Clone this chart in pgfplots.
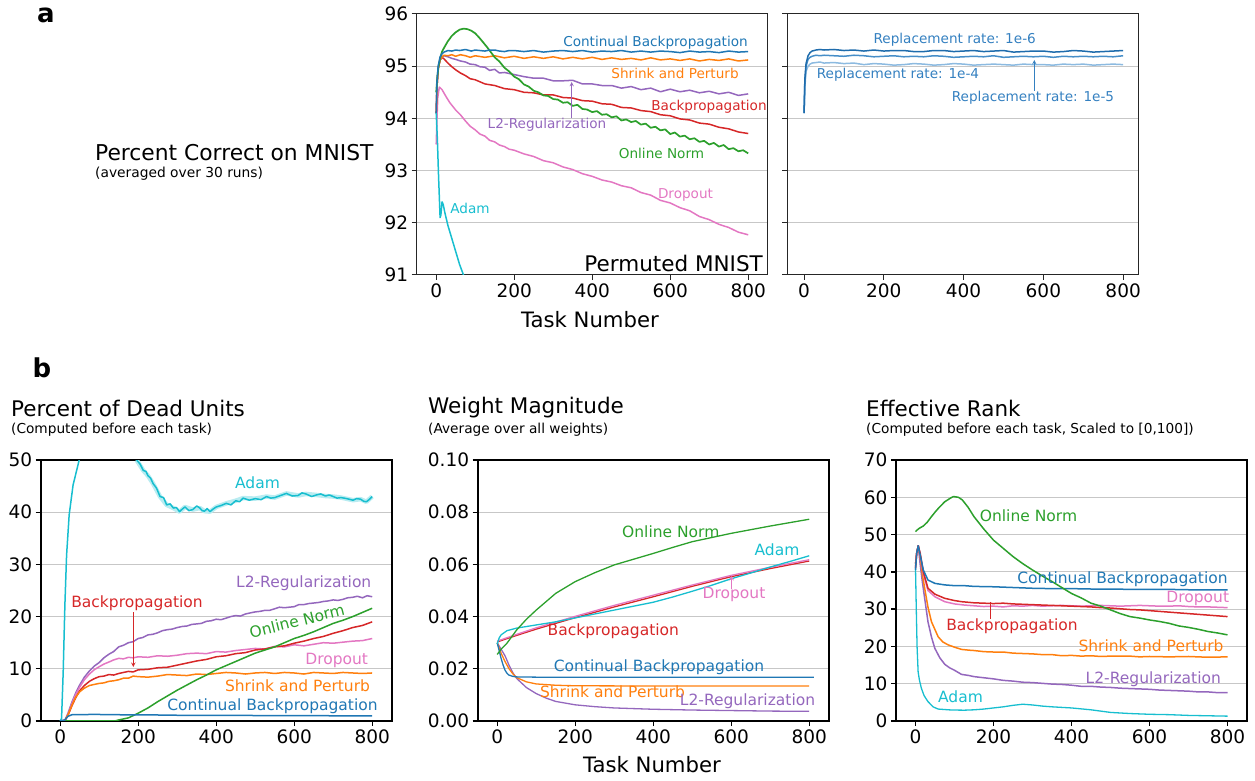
\documentclass[border=0pt]{standalone}
\usepackage{pgfplots}
\pgfplotsset{compat=1.18}
\usepackage{fontspec}
\setmainfont{DejaVu Sans}
\definecolor{cB}{HTML}{1F77B4}
\definecolor{cO}{HTML}{FF7F0E}
\definecolor{cG}{HTML}{2CA02C}
\definecolor{cR}{HTML}{D62728}
\definecolor{cP}{HTML}{9467BD}
\definecolor{cK}{HTML}{E377C2}
\definecolor{cC}{HTML}{17BECF}
\definecolor{rA}{RGB}{31,108,172}
\definecolor{rB}{RGB}{70,142,200}
\definecolor{rC}{RGB}{140,186,224}
\definecolor{rT}{RGB}{52,128,192}
\newcommand\fs[1]{\fontsize{#1}{#1}\selectfont}
\pgfplotsset{
 myax/.style={scale only axis, width=351pt, height=261pt, xmin=-50, xmax=850,
   xtick={0,200,400,600,800}, tick align=outside, xtick pos=left, ytick pos=left,
   ymajorgrids, major grid style={draw=black!22, line width=1pt},
   tick label style={font=\fs{18.5}}, major tick length=5pt,
   tick style={black!85, line width=1pt},
   /pgf/number format/assume math mode=true,
   axis line style={line width=1pt, black!85},
   every axis plot/.append style={line width=1.5pt, line join=round},
   scaled y ticks=false, clip=true},
 bax/.style={myax, axis line style={line width=1.6pt, black}, tick style={black, line width=1.3pt}}
}
\begin{document}
\begin{tikzpicture}
\useasboundingbox (0,0) rectangle (1255pt,780pt);
% ---------------- A1 ----------------
\begin{axis}[myax, at={(416.7pt,766pt)}, anchor=north west, ymin=91, ymax=96, ytick={91,92,93,94,95,96}]
\addplot[cK] coordinates {(0,93.5)(2,94.0)(4,94.4)(8,94.6)(15,94.55)(25,94.42)(35,94.3)(50,94.16)(62,94.07)(75,93.95)(87,93.85)(100,93.78)(112,93.7)(125,93.66)(137,93.58)(150,93.55)(162,93.49)(175,93.46)(187,93.41)(200,93.39)(225,93.32)(250,93.27)(275,93.19)(300,93.15)(325,93.07)(350,93.02)(375,92.94)(400,92.89)(425,92.82)(450,92.78)(475,92.71)(500,92.67)(525,92.58)(550,92.53)(575,92.43)(600,92.38)(625,92.29)(650,92.23)(675,92.12)(700,92.06)(725,91.97)(750,91.91)(775,91.82)(800,91.77)};
\addplot[cR] coordinates {(0,94.1)(2,94.6)(5,94.95)(10,95.12)(15,95.17)(20,95.14)(30,95.06)(40,94.99)(50,94.93)(62,94.87)(75,94.82)(87,94.76)(100,94.74)(125,94.66)(150,94.63)(175,94.57)(200,94.55)(225,94.5)(250,94.49)(275,94.45)(300,94.45)(325,94.4)(350,94.39)(375,94.34)(400,94.33)(425,94.28)(450,94.27)(475,94.21)(500,94.2)(525,94.15)(550,94.13)(575,94.07)(600,94.05)(625,93.99)(650,93.97)(675,93.91)(700,93.89)(725,93.83)(750,93.8)(775,93.74)(800,93.71)};
\addplot[cP] coordinates {(0,94.1)(2,94.6)(5,94.95)(10,95.12)(15,95.18)(20,95.2)(30,95.18)(40,95.15)(50,95.13)(62,95.1)(75,95.08)(87,95.04)(100,95.03)(112,94.99)(125,94.98)(137,94.92)(150,94.94)(162,94.87)(175,94.88)(200,94.84)(225,94.8)(250,94.77)(275,94.77)(300,94.72)(325,94.72)(350,94.73)(375,94.66)(400,94.66)(425,94.63)(450,94.63)(475,94.58)(500,94.61)(525,94.55)(550,94.58)(575,94.51)(600,94.56)(625,94.51)(650,94.54)(675,94.49)(700,94.52)(725,94.47)(750,94.5)(775,94.44)(800,94.47)};
\addplot[cO] coordinates {(0,94.1)(2,94.6)(5,94.95)(10,95.12)(15,95.18)(20,95.21)(30,95.2)(40,95.22)(50,95.19)(62,95.22)(75,95.2)(87,95.17)(100,95.2)(125,95.17)(150,95.2)(175,95.16)(200,95.19)(225,95.15)(250,95.18)(275,95.15)(300,95.18)(325,95.14)(350,95.17)(375,95.14)(400,95.17)(425,95.13)(450,95.16)(475,95.13)(500,95.15)(525,95.12)(550,95.16)(575,95.12)(600,95.14)(625,95.11)(650,95.14)(675,95.1)(700,95.13)(725,95.11)(750,95.14)(775,95.1)(800,95.12)};
\addplot[cG, line width=1.7pt] coordinates {(0,94.5)(3,94.8)(6,95.0)(10,95.15)(15,95.28)(20,95.35)(30,95.48)(40,95.58)(50,95.65)(60,95.7)(70,95.72)(80,95.71)(90,95.68)(100,95.63)(110,95.55)(120,95.46)(130,95.37)(140,95.27)(150,95.17)(162,95.09)(175,94.97)(187,94.9)(200,94.8)(212,94.75)(225,94.65)(237,94.61)(250,94.53)(262,94.5)(275,94.44)(287,94.43)(300,94.37)(312,94.36)(325,94.3)(337,94.31)(350,94.24)(362,94.26)(375,94.18)(387,94.17)(400,94.12)(412,94.14)(425,94.07)(437,94.08)(450,94.02)(462,94.04)(475,93.96)(487,93.98)(500,93.93)(512,93.95)(525,93.88)(537,93.9)(550,93.82)(562,93.84)(575,93.77)(587,93.79)(600,93.7)(612,93.73)(625,93.65)(637,93.67)(650,93.6)(662,93.62)(675,93.55)(687,93.57)(700,93.5)(712,93.53)(725,93.46)(737,93.49)(750,93.41)(762,93.43)(775,93.37)(787,93.39)(800,93.33)};
\addplot[cB] coordinates {(0,94.1)(2,94.7)(5,95.0)(10,95.18)(15,95.24)(20,95.27)(30,95.30)(40,95.29)(50,95.31)(60,95.3)(75,95.32)(90,95.29)(100,95.31)(112,95.3)(125,95.29)(137,95.31)(150,95.31)(162,95.29)(175,95.28)(187,95.3)(200,95.3)(225,95.28)(250,95.3)(275,95.27)(300,95.29)(325,95.3)(350,95.28)(375,95.3)(400,95.27)(425,95.29)(450,95.28)(475,95.3)(500,95.27)(525,95.29)(550,95.27)(575,95.29)(600,95.28)(625,95.26)(650,95.29)(675,95.27)(700,95.28)(725,95.26)(750,95.29)(775,95.27)(800,95.28)};
\addplot[cC] coordinates {(0,94.1)(3,93.6)(6,92.9)(10,92.1)(12,92.15)(15,92.4)(18,92.35)(22,92.2)(30,91.95)(40,91.7)(50,91.45)(60,91.2)(70,91.0)(75,90.8)};
\end{axis}
% ---------------- A2 ----------------
\begin{axis}[myax, at={(787.3pt,766pt)}, anchor=north west, xmin=-42, xmax=838, ymin=91, ymax=96, ytick={91,92,93,94,95,96}, yticklabels={}]
\addplot[rC] coordinates {(0,94.1)(2,94.6)(5,94.9)(10,95.0)(15,95.04)(20,95.06)(30,95.07)(40,95.08)(50,95.06)(75,95.07)(100,95.05)(125,95.06)(150,95.03)(175,95.05)(200,95.04)(225,95.02)(250,95.03)(275,95.05)(300,95.04)(325,95.02)(350,95.03)(375,95.05)(400,95.04)(425,95.02)(450,95.03)(475,95.04)(500,95.03)(525,95.02)(550,95.04)(575,95.03)(600,95.03)(625,95.02)(650,95.04)(675,95.03)(700,95.04)(725,95.02)(750,95.03)(775,95.04)(800,95.03)};
\addplot[rB] coordinates {(0,94.1)(2,94.7)(5,95.0)(10,95.13)(15,95.17)(20,95.19)(30,95.21)(40,95.2)(50,95.21)(75,95.2)(100,95.19)(125,95.21)(150,95.2)(175,95.18)(200,95.19)(225,95.2)(250,95.18)(275,95.19)(300,95.18)(325,95.2)(350,95.19)(375,95.17)(400,95.18)(425,95.19)(450,95.18)(475,95.2)(500,95.17)(525,95.18)(550,95.19)(575,95.18)(600,95.19)(625,95.17)(650,95.19)(675,95.18)(700,95.19)(725,95.18)(750,95.19)(775,95.18)(800,95.2)};
\addplot[rA] coordinates {(0,94.1)(2,94.75)(5,95.05)(10,95.2)(15,95.26)(20,95.29)(30,95.31)(40,95.32)(50,95.31)(75,95.32)(100,95.3)(125,95.31)(150,95.29)(175,95.31)(200,95.29)(225,95.3)(250,95.3)(275,95.28)(300,95.28)(325,95.3)(350,95.3)(375,95.28)(400,95.29)(425,95.3)(450,95.28)(475,95.29)(500,95.3)(525,95.27)(550,95.28)(575,95.29)(600,95.29)(625,95.27)(650,95.28)(675,95.3)(700,95.29)(725,95.27)(750,95.28)(775,95.29)(800,95.3)};
\end{axis}
% ---------------- B1 ----------------
\begin{axis}[bax, at={(40.7pt,320pt)}, anchor=north west, ymin=0, ymax=50, ytick={0,10,20,30,40,50}]
\addplot[cC!30, line width=4.5pt] coordinates {(196,50)(213,48)(225,47)(238,45.5)(256,43)(273,41.4)(290,40.8)(306,40.1)(320,41)(340,40.5)(358,40.8)(370,40.2)(384,40.1)(400,41)(426,41.7)(450,42.2)(469,42.7)(500,42.6)(529,43)(550,42.8)(580,43.6)(610,43.2)(630,43.5)(657,43.3)(680,43.1)(700,43)(720,42.8)(751,42.3)(770,42.5)(785,42)(800,43)};
\addplot[cC] coordinates {(0,0)(3.5,0.5)(7.7,9.4)(12,22.2)(16.4,31.8)(23,39.5)(33,45.2)(48.7,50)(60,54)(100,58)(150,56)(196,50)(205,49.2)(213,48)(220,47.8)(225,47)(232,46.5)(238,45.5)(247,44.6)(256,43)(265,42.8)(273,41.4)(282,41.6)(290,40.8)(298,40.9)(306,40.1)(313,40.6)(320,41)(330,40.3)(340,40.5)(350,41.2)(358,40.8)(364,40.3)(370,40.2)(377,40.7)(384,40.1)(392,40.6)(400,41)(413,41.3)(426,41.7)(438,41.4)(450,42.2)(460,42.0)(469,42.7)(485,42.3)(500,42.6)(515,42.4)(529,43)(540,42.7)(550,42.8)(565,43.2)(580,43.6)(595,43.1)(610,43.2)(620,43.7)(630,43.5)(645,43.0)(657,43.3)(668,43.5)(680,43.1)(690,43.3)(700,43)(710,42.7)(720,42.8)(735,42.6)(751,42.3)(760,42.6)(770,42.5)(778,42.1)(785,42)(792,42.4)(800,43)};
\addplot[cP] coordinates {(0,0)(12,0.1)(20,1.5)(30,3.6)(40,5.4)(50,6.9)(62,8.4)(75,9.6)(87,10.5)(100,11.2)(112,12.1)(125,12.8)(137,13.3)(150,14.2)(162,14.5)(175,15)(187,15.2)(200,15.8)(212,16.0)(225,16.5)(237,16.6)(250,16.9)(262,17.3)(275,17.5)(287,17.6)(300,17.9)(312,18.1)(325,18.2)(337,18.5)(350,18.6)(362,18.7)(375,19.1)(387,19.2)(400,19.5)(412,19.4)(425,19.7)(437,20.0)(450,20.2)(462,20.1)(475,20.5)(487,20.7)(500,20.9)(512,21.0)(525,21.2)(537,21.2)(550,21.5)(562,21.8)(575,21.7)(587,21.8)(600,21.9)(612,22.3)(625,22.3)(637,22.5)(650,22.6)(662,22.7)(675,22.9)(687,23.0)(700,23.2)(712,23.1)(725,23.3)(737,23.6)(750,23.7)(762,23.9)(775,23.6)(787,24.0)(800,23.8)};
\addplot[cK] coordinates {(0,0)(12,0.1)(20,1.3)(30,3.3)(40,5.1)(50,6.5)(62,7.9)(75,9.0)(87,9.8)(100,10.4)(112,10.9)(125,11.3)(137,11.7)(150,12)(162,11.9)(175,12.2)(187,12.1)(200,12.3)(225,12.2)(250,12.5)(275,12.4)(300,12.6)(325,12.9)(350,13)(375,12.9)(400,13.3)(425,13.2)(450,13.5)(475,13.7)(500,13.9)(525,13.8)(550,14.3)(575,14.2)(600,14.6)(625,14.4)(650,14.7)(675,15.0)(700,14.9)(725,15.1)(750,15.3)(775,15.4)(800,15.8)};
\addplot[cR] coordinates {(0,0)(12,0.1)(20,1.1)(30,2.9)(40,4.5)(50,5.8)(62,6.8)(75,7.6)(87,8.1)(100,8.5)(112,8.6)(125,8.9)(137,8.8)(150,9.1)(162,9.3)(175,9.5)(187,9.4)(200,9.8)(225,9.9)(250,10.2)(275,10.3)(300,10.7)(325,11.1)(350,11.5)(375,11.8)(400,12.3)(425,12.5)(450,12.9)(475,13.1)(500,13.6)(525,13.8)(550,14.2)(575,14.4)(600,14.9)(625,15.3)(650,15.8)(675,16.2)(700,16.8)(725,17.3)(750,17.9)(775,18.3)(800,19.0)};
\addplot[cO] coordinates {(0,0)(12,0.1)(20,1.2)(30,3.0)(40,4.6)(50,5.6)(62,6.3)(75,6.8)(87,7.0)(100,7.2)(112,7.3)(125,7.6)(137,7.7)(150,7.9)(162,8.2)(175,8.2)(187,8.6)(200,8.5)(225,8.4)(250,8.6)(275,8.9)(300,8.8)(325,8.7)(350,9.0)(375,8.9)(400,9.1)(425,9.3)(450,9.2)(475,9.0)(500,9.2)(525,9.3)(550,9.1)(575,9.3)(600,9.2)(625,9.0)(650,9.3)(675,9.2)(700,9.1)(725,9.3)(750,9.2)(775,9.1)(800,9.2)};
\addplot[cG] coordinates {(0,0)(140,0)(150,0.2)(175,0.6)(200,1.5)(225,2.5)(250,3.7)(275,4.8)(300,5.9)(325,6.9)(350,7.9)(375,8.8)(400,9.8)(425,10.6)(450,11.4)(475,12.2)(500,13)(525,13.6)(550,14.2)(575,15)(600,15.8)(625,16.4)(650,17.1)(675,17.9)(700,18.7)(725,19.3)(750,20)(775,20.8)(800,21.6)};
\addplot[cB] coordinates {(0,0)(12,0.2)(20,0.9)(30,1.2)(50,1.2)(75,1.25)(100,1.25)(125,1.2)(150,1.2)(200,1.15)(250,1.15)(300,1.1)(400,1.1)(500,1.05)(600,1.05)(700,1.0)(800,1.0)};
\end{axis}
% ---------------- B2 ----------------
\begin{axis}[bax, at={(477.7pt,320pt)}, anchor=north west, ymin=0, ymax=0.1, ytick={0,0.02,0.04,0.06,0.08,0.1},
  yticklabel style={/pgf/number format/.cd, fixed, fixed zerofill, precision=2},
  every axis plot/.append style={line width=1.3pt}]
\addplot[cP] coordinates {(0,0.030)(10,0.0275)(20,0.025)(30,0.0215)(40,0.0185)(50,0.0163)(75,0.0128)(100,0.0105)(125,0.0088)(150,0.0075)(200,0.0062)(250,0.0055)(300,0.005)(400,0.0045)(500,0.0042)(600,0.004)(700,0.0038)(800,0.0037)};
\addplot[cO] coordinates {(0,0.030)(10,0.026)(20,0.0228)(30,0.0201)(40,0.0181)(50,0.0166)(75,0.0150)(100,0.0142)(150,0.0137)(200,0.0135)(400,0.0134)(800,0.0134)};
\addplot[cB] coordinates {(0,0.0300)(5,0.027)(10,0.024)(15,0.0215)(20,0.0195)(25,0.0183)(30,0.0176)(40,0.0171)(50,0.0169)(100,0.0168)(812,0.0168)};
\addplot[cR] coordinates {(0,0.0303)(50,0.0328)(100,0.0352)(150,0.0374)(200,0.0396)(300,0.0437)(400,0.0476)(500,0.0516)(600,0.0553)(700,0.0584)(800,0.0613)};
\addplot[cK] coordinates {(0,0.0306)(50,0.0332)(100,0.0357)(150,0.0379)(200,0.0401)(300,0.0443)(400,0.0482)(500,0.0521)(600,0.0558)(700,0.0589)(800,0.0618)};
\addplot[cC] coordinates {(0,0.0295)(5,0.0318)(10,0.033)(25,0.0346)(50,0.0356)(100,0.0368)(150,0.038)(200,0.0395)(250,0.041)(300,0.0425)(350,0.044)(400,0.0455)(450,0.0475)(500,0.0497)(550,0.052)(600,0.0545)(650,0.0567)(700,0.059)(750,0.0611)(800,0.0633)};
\addplot[cG] coordinates {(0,0.0255)(10,0.0275)(25,0.0298)(50,0.0349)(75,0.039)(100,0.0425)(150,0.0489)(200,0.0534)(250,0.0568)(300,0.0598)(350,0.062)(400,0.0642)(450,0.0665)(500,0.0687)(600,0.0719)(700,0.0747)(800,0.0773)};
\end{axis}
% ---------------- B3 ----------------
\begin{axis}[bax, at={(896pt,320pt)}, anchor=north west, ymin=0, ymax=70, ytick={0,10,20,30,40,50,60,70}]
\addplot[cC, line width=1.3pt] coordinates {(0,41)(2,30)(4,20)(6.7,13.2)(10,11)(15,8.8)(22,6.8)(32,5.2)(45,3.8)(58,3.2)(92,2.95)(125,2.9)(150,3.0)(175,3.2)(200,3.5)(225,3.8)(250,4.2)(275,4.5)(300,4.3)(325,4.0)(350,3.8)(400,3.5)(450,3.0)(500,2.3)(550,2.0)(600,1.8)(650,1.7)(700,1.5)(750,1.4)(800,1.3)};
\addplot[cP] coordinates {(0,42)(3,45)(7,47)(12,42)(18,37)(23.5,32.9)(32,26.6)(41,22.5)(49.5,19.5)(62,17)(75,15.2)(87,14.3)(100,13.6)(118,12.5)(137,12.2)(150,11.9)(175,11.6)(200,11.3)(225,10.9)(250,10.7)(275,10.4)(300,10.3)(325,10.1)(350,9.9)(375,9.8)(400,9.6)(425,9.3)(450,9.3)(475,9.1)(500,9.0)(525,8.8)(550,8.7)(575,8.6)(600,8.5)(625,8.3)(650,8.2)(675,8.1)(700,8.0)(725,7.8)(750,7.8)(775,7.6)(800,7.6)};
\addplot[cO] coordinates {(0,42)(3,45)(7,47)(12,44)(18,39)(23.5,35.6)(32,30.5)(41,26.6)(58,22.6)(70,21.2)(84,20.4)(100,19.8)(118,19.2)(137,19.0)(150,18.9)(175,18.6)(200,18.5)(225,18.5)(250,18.2)(275,18.1)(300,18)(325,17.8)(350,17.8)(375,17.5)(400,17.6)(425,17.4)(450,17.5)(475,17.3)(500,17.4)(550,17.4)(575,17.2)(600,17.3)(650,17.2)(700,17.3)(750,17.1)(800,17.2)};
\addplot[cK] coordinates {(0,41)(3,45)(7,47)(12,44.5)(20,39.5)(32,35)(50,33.3)(75,32)(100,31.4)(125,31.1)(150,30.9)(175,30.7)(200,30.8)(225,30.6)(250,30.9)(275,30.8)(300,31)(325,30.8)(350,30.9)(375,31.0)(400,30.9)(425,30.8)(450,30.9)(475,31.0)(500,30.9)(525,30.8)(550,30.9)(575,31.0)(600,30.9)(625,30.8)(650,30.8)(675,30.9)(700,30.7)(725,30.6)(750,30.6)(775,30.5)(800,30.4)};
\addplot[cR] coordinates {(0,41)(3,45)(7,47)(12,45)(20,40)(32,35.6)(50,34)(75,32.9)(100,32.3)(118,32)(150,31.7)(175,31.6)(200,31.5)(225,31.6)(250,31.4)(275,31.3)(300,31.2)(325,31.1)(350,31.0)(375,30.9)(400,30.8)(425,30.7)(450,30.6)(475,30.4)(500,30.3)(525,30.1)(550,29.9)(575,29.8)(600,29.6)(625,29.4)(650,29.2)(675,29.0)(700,28.8)(725,28.6)(750,28.4)(775,28.2)(800,28.0)};
\addplot[cB] coordinates {(0,40.5)(3,45)(7,47)(12,44.5)(20,40.5)(32,37.8)(50,36.9)(75,36.5)(100,36.3)(125,36.3)(150,36.1)(200,36)(250,35.8)(300,35.6)(350,35.5)(400,35.5)(450,35.4)(500,35.4)(550,35.3)(600,35.3)(650,35.3)(700,35.2)(750,35.2)(800,35.2)};
\addplot[cG] coordinates {(0,50.8)(5,51.3)(10,51.7)(20,52.3)(30,53.3)(40,54.7)(50,56.0)(60,57.2)(75,58.8)(90,59.8)(97,60.2)(110,60)(120,59.3)(135,57.3)(150,54.8)(175,51.5)(200,48.5)(225,46.3)(250,44.1)(275,42.2)(300,40.5)(325,38.9)(350,37.4)(375,35.8)(400,34.2)(425,33)(450,31.6)(475,30.8)(500,29.8)(525,28.8)(550,28.0)(575,27.6)(600,27.1)(625,26.7)(650,26.2)(675,25.5)(700,25.1)(725,24.6)(750,24.0)(775,23.6)(800,23.1)};
\end{axis}
% ---------------- texts ----------------
\begin{scope}[shift={(0pt,780pt)}, x=1pt, y=-1pt]
\node[font=\fs{26}\bfseries] at (46,15) {a};
\node[font=\fs{26}\bfseries] at (42,368) {b};
\node[font=\fs{21.8}, anchor=west, inner sep=0] at (95,153) {Percent Correct on MNIST};
\node[font=\fs{13.8}, anchor=west, inner sep=0] at (95,174) {(averaged over 30 runs)};
\node[font=\fs{21.2}] at (590,320) {Task Number};
\node[font=\fs{21.2}] at (652,765) {Task Number};
\node[font=\fs{21.5}, anchor=west, inner sep=0] at (11,408) {Percent of Dead Units};
\node[font=\fs{13.7}, anchor=west, inner sep=0] at (11,430) {(Computed before each task)};
\node[font=\fs{21.5}, anchor=west, inner sep=0] at (428,408) {Weight Magnitude};
\node[font=\fs{13.7}, anchor=west, inner sep=0] at (428,430) {(Average over all weights)};
\node[font=\fs{21.5}, anchor=west, inner sep=0] at (866,408) {Effective Rank};
\node[font=\fs{13.7}, anchor=west, inner sep=0] at (866,430) {(Computed before each task, Scaled to [0,100])};
% A labels
\begin{scope}[every node/.style={font=\fs{13.6}, inner sep=0}]
\node[text=cB] at (655.5,43) {Continual Backpropagation};
\node[text=cO] at (675,73) {Shrink and Perturb};
\node[text=cR] at (709,107) {Backpropagation};
\node[text=cP] at (547,125) {L2-Regularization};
\node[text=cG] at (661.5,153) {Online Norm};
\node[text=cK] at (685.5,195) {Dropout};
\node[text=cC] at (470,208) {Adam};
\node[text=rT] at (954.7,40) {Replacement rate: 1e-6};
\node[text=rT] at (898,75) {Replacement rate: 1e-4};
\node[text=rT] at (1033,98) {Replacement rate: 1e-5};
\end{scope}
\draw[cP, line width=0.9pt, -stealth] (571.7,118) -- (571.7,82);
\draw[rT, line width=0.9pt, -stealth] (1034.3,91) -- (1034.3,60);
\node[font=\fs{21.5}, anchor=east, inner sep=0] at (763,263) {Permuted MNIST};
% B labels
\begin{scope}[every node/.style={font=\fs{15.5}, inner sep=0}]
\node[text=cC] at (257.5,483) {Adam};
\node[text=cP] at (303.7,583) {L2-Regularization};
\node[text=cR] at (137,603) {Backpropagation};
\node[text=cG, rotate=14] at (297,621) {Online Norm};
\node[text=cK] at (336.7,660) {Dropout};
\node[text=cO] at (297.5,686) {Shrink and Perturb};
\node[text=cB] at (272.5,706) {Continual Backpropagation};
\node[text=cG] at (670.8,531.7) {Online Norm};
\node[text=cC] at (777,550) {Adam};
\node[text=cK] at (734,594.5) {Dropout};
\node[text=cR] at (613.3,631) {Backpropagation};
\node[text=cB] at (659,667) {Continual Backpropagation};
\node[text=cO] at (612.5,692) {Shrink and Perturb};
\node[text=cP] at (747.5,701.7) {L2-Regularization};
\node[text=cG] at (1028.5,516) {Online Norm};
\node[text=cB] at (1122.5,579) {Continual Backpropagation};
\node[text=cK] at (1197.7,598) {Dropout};
\node[text=cR] at (1012,626) {Backpropagation};
\node[text=cO] at (1151,645.5) {Shrink and Perturb};
\node[text=cP] at (1153.3,679.7) {L2-Regularization};
\node[text=cC] at (960.5,696.7) {Adam};
\end{scope}
\draw[cR, line width=1pt, -stealth] (133.3,612) -- (133.3,667);
\draw[cK, line width=1pt, -stealth] (731.7,589) -- (731.7,576);
\draw[cR, line width=1pt] (990,602) -- (990,619);
\end{scope}
\end{tikzpicture}
\end{document}
